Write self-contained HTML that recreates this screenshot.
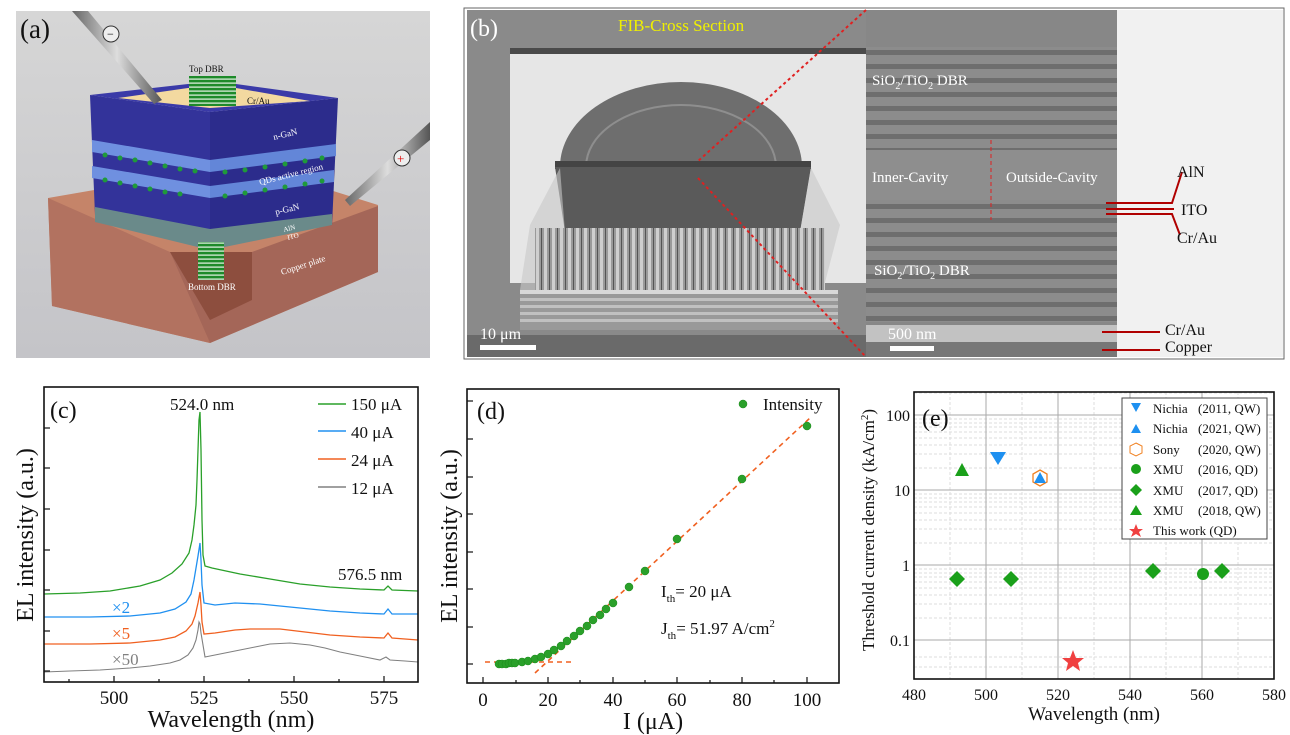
<!DOCTYPE html>
<html><head><meta charset="utf-8"><style>
body{margin:0;background:#fff;}
svg{display:block;font-family:"Liberation Serif",serif;}
</style></head><body>
<svg width="1290" height="735" viewBox="0 0 1290 735" xmlns="http://www.w3.org/2000/svg">
<defs>
<linearGradient id="bgA" x1="0" y1="0" x2="0" y2="1"><stop offset="0" stop-color="#d6d6d6"/><stop offset="1" stop-color="#c4c4c8"/></linearGradient>
<linearGradient id="cuL" x1="0" y1="0" x2="1" y2="1"><stop offset="0" stop-color="#c07a62"/><stop offset="1" stop-color="#b06c58"/></linearGradient>
<linearGradient id="probe" x1="0" y1="0" x2="1" y2="0"><stop offset="0" stop-color="#666"/><stop offset=".5" stop-color="#ddd"/><stop offset="1" stop-color="#555"/></linearGradient>
<pattern id="stripeM" width="10" height="14" patternUnits="userSpaceOnUse"><rect width="10" height="14" fill="#8c8c8c"/><rect y="8" width="10" height="5" fill="#6e6e6e"/></pattern>
<pattern id="rub" width="8" height="60" patternUnits="userSpaceOnUse"><rect width="8" height="60" fill="#9a9a9a"/><rect x="0" width="3" height="60" fill="#cfcfcf"/><rect x="5" width="1" height="60" fill="#555"/></pattern>
<pattern id="dbrG" width="10" height="4" patternUnits="userSpaceOnUse"><rect width="10" height="4" fill="#1e8a2a"/><rect y="2.5" width="10" height="1.2" fill="#e8f4e8"/></pattern>
</defs>

<!-- ===== Panel (a) ===== -->
<rect x="16" y="11" width="414" height="347" fill="url(#bgA)"/>
<!-- copper -->
<polygon points="48,198 100,189 330,190 378,205 378,272 210,343 52,306" fill="#c58469"/>
<polygon points="48,198 170,252 210,343 52,306" fill="#b27260"/>
<polygon points="170,252 252,252 378,206 378,272 210,343" fill="#a46658"/>
<polygon points="170,252 252,252 252,300 210,320" fill="#8d4e3e"/>
<!-- blue block -->
<polygon points="90,95 210,112 210,237 95,215" fill="#33339a"/>
<polygon points="210,112 338,98 332,225 210,237" fill="#2c2c8c"/>
<polygon points="90,95 188,84 236,84 338,98 210,112" fill="#3a3aa8"/>
<polygon points="118,98 210,108 310,101 236,88 188,88" fill="#f3d9a0"/>
<!-- layers -->
<polygon points="92,140 210,160 210,172 92,152" fill="#6f90e0"/>
<polygon points="210,160 336,144 336,156 210,172" fill="#6386d8"/>
<polygon points="92,166 210,186 210,198 92,178" fill="#6f90e0"/>
<polygon points="210,186 334,170 334,182 210,198" fill="#6386d8"/>
<g fill="#1f9a3a">
<circle cx="105" cy="155" r="2.5"/><circle cx="120" cy="158" r="2.5"/><circle cx="135" cy="160" r="2.5"/><circle cx="150" cy="163" r="2.5"/><circle cx="165" cy="166" r="2.5"/><circle cx="180" cy="169" r="2.5"/><circle cx="195" cy="171" r="2.5"/>
<circle cx="225" cy="172" r="2.5"/><circle cx="245" cy="170" r="2.5"/><circle cx="265" cy="167" r="2.5"/><circle cx="285" cy="164" r="2.5"/><circle cx="305" cy="161" r="2.5"/><circle cx="322" cy="158" r="2.5"/>
<circle cx="105" cy="180" r="2.5"/><circle cx="120" cy="183" r="2.5"/><circle cx="135" cy="186" r="2.5"/><circle cx="150" cy="189" r="2.5"/><circle cx="165" cy="192" r="2.5"/><circle cx="180" cy="194" r="2.5"/>
<circle cx="225" cy="196" r="2.5"/><circle cx="245" cy="193" r="2.5"/><circle cx="265" cy="190" r="2.5"/><circle cx="285" cy="187" r="2.5"/><circle cx="305" cy="184" r="2.5"/><circle cx="322" cy="181" r="2.5"/>
</g>
<polygon points="95,207 210,229 332,214 332,225 210,250 95,222" fill="#6a8a8a"/>
<rect x="189" y="76" width="47" height="30" fill="url(#dbrG)"/>
<rect x="198" y="242" width="26" height="38" fill="url(#dbrG)"/>
<text x="189" y="72" font-size="9" fill="#111">Top DBR</text>
<text x="247" y="104" font-size="9" fill="#111">Cr/Au</text>
<text x="274" y="140" font-size="9" fill="#fff" transform="rotate(-14 274 140)">n-GaN</text>
<text x="260" y="185" font-size="9" fill="#fff" transform="rotate(-14 260 185)">QDs active region</text>
<text x="276" y="215" font-size="9" fill="#fff" transform="rotate(-14 276 215)">p-GaN</text>
<text x="284" y="232" font-size="7" fill="#fff" transform="rotate(-14 284 232)">AlN</text>
<text x="288" y="240" font-size="7" fill="#fff" transform="rotate(-14 288 240)">ITO</text>
<text x="282" y="275" font-size="9" fill="#fff" transform="rotate(-18 282 275)">Copper plate</text>
<text x="188" y="290" font-size="9" fill="#fff">Bottom DBR</text>
<!-- probes -->
<polygon points="72,11 88,11 162,100 154,104" fill="url(#probe)"/>
<circle cx="111" cy="34" r="8" fill="#eee" stroke="#333"/><text x="107" y="38" font-size="12">−</text>
<polygon points="430,122 430,140 350,206 345,200" fill="url(#probe)"/>
<circle cx="402" cy="158" r="8" fill="#eee" stroke="#333"/><text x="397" y="163" font-size="13" fill="#d00">+</text>
<text x="20" y="38" font-size="27" fill="#111">(a)</text>

<!-- ===== Panel (b) ===== -->
<rect x="467" y="10" width="399" height="347" fill="#8a8a8a"/>
<rect x="510" y="50" width="356" height="233" fill="#e6e6e6"/>
<rect x="510" y="48" width="356" height="6" fill="#4a4a4a"/>
<ellipse cx="681" cy="167" rx="121" ry="85" fill="#6e6e6e"/>
<ellipse cx="681" cy="167" rx="95" ry="62" fill="none" stroke="#8e8e8e" stroke-width="2"/>
<rect x="555" y="161" width="256" height="8" fill="#444"/>
<polygon points="555,167 811,167 800,232 565,232" fill="#5a5a5a"/>
<polygon points="530,225 560,168 565,232 800,232 811,168 840,225 823,290 520,290" fill="#c8c8c8" opacity=".6"/>
<rect x="535" y="228" width="290" height="62" fill="url(#rub)"/>
<g fill="#d8d8d8"><rect x="520" y="290" width="318" height="4"/><rect x="520" y="298" width="318" height="3"/><rect x="520" y="305" width="318" height="3"/><rect x="520" y="312" width="318" height="3"/><rect x="520" y="319" width="318" height="3"/></g>
<rect x="520" y="294" width="318" height="36" fill="#a8a8a8" opacity=".5"/>
<rect x="467" y="335" width="399" height="22" fill="#6a6a6a"/>
<rect x="480" y="345" width="56" height="5" fill="#fff"/>
<text x="480" y="339" font-size="16" fill="#fff">10 μm</text>
<text x="470" y="36" font-size="24" fill="#fff">(b)</text>
<text x="618" y="31" font-size="17" fill="#f0f000">FIB-Cross Section</text>
<!-- middle -->
<rect x="866" y="10" width="251" height="347" fill="#878787"/>
<rect x="866" y="47" width="251" height="103" fill="url(#stripeM)"/>
<rect x="866" y="150" width="251" height="50" fill="#8e8e8e"/>
<rect x="866" y="200" width="251" height="122" fill="url(#stripeM)"/>
<rect x="866" y="325" width="251" height="17" fill="#c2c2c2"/>
<rect x="866" y="342" width="251" height="15" fill="#777"/>
<rect x="890" y="346" width="44" height="5" fill="#fff"/>
<text x="888" y="339" font-size="16" fill="#fff">500 nm</text>
<text x="872" y="85" font-size="15" fill="#fff">SiO<tspan font-size="10" dy="4">2</tspan><tspan dy="-4">/TiO</tspan><tspan font-size="10" dy="4">2</tspan><tspan dy="-4"> DBR</tspan></text>
<text x="874" y="275" font-size="15" fill="#fff">SiO<tspan font-size="10" dy="4">2</tspan><tspan dy="-4">/TiO</tspan><tspan font-size="10" dy="4">2</tspan><tspan dy="-4"> DBR</tspan></text>
<text x="872" y="182" font-size="15" fill="#fff">Inner-Cavity</text>
<text x="1006" y="182" font-size="15" fill="#fff">Outside-Cavity</text>
<line x1="991" y1="140" x2="991" y2="220" stroke="#e02020" stroke-width="1" stroke-dasharray="4,3"/>
<!-- right -->
<rect x="1117" y="10" width="166" height="347" fill="#f1f1f1"/>
<rect x="464" y="8" width="820" height="351" fill="none" stroke="#666" stroke-width="1"/>
<g stroke="#b00000" stroke-width="2" fill="none">
<polyline points="1106,203 1172,203 1182,172"/><line x1="1106" y1="209" x2="1174" y2="209"/><polyline points="1106,214 1172,214 1180,235"/>
<line x1="1102" y1="332" x2="1160" y2="332"/><line x1="1102" y1="350" x2="1160" y2="350"/>
</g>
<text x="1177" y="177" font-size="16" fill="#111">AlN</text>
<text x="1181" y="215" font-size="16" fill="#111">ITO</text>
<text x="1177" y="243" font-size="16" fill="#111">Cr/Au</text>
<text x="1165" y="335" font-size="16" fill="#111">Cr/Au</text>
<text x="1165" y="352" font-size="16" fill="#111">Copper</text>
<g stroke="#e02020" stroke-width="2" stroke-dasharray="3,3"><line x1="866" y1="10" x2="697" y2="162"/><line x1="698" y1="178" x2="866" y2="357"/></g>

<!-- ===== Panel (c) ===== -->
<g fill="none" stroke-width="1.3">
<polyline stroke="#808080" stroke-width="1.1" points="44,672 70,671 100,670 130,668 150,666 170,663 180,660 188,655 193,648 196,640 198,630 199,622 200,624 201,633 203,645 205,657 210,656 215,655 225,653 240,650 255,647 270,644 290,643 310,645 325,648 340,652 360,656 380,660 386,657 390,660 405,661 418,662"/>
<polyline stroke="#f06020" points="44,644 90,644 130,643 160,640 175,637 186,631 192,624 195,616 198,603 200,592 201,605 202,622 204,634 215,633 235,630 250,629 280,629 305,632 330,635 360,637 384,638 388,633 392,638 418,640"/>
<polyline stroke="#2090f0" points="44,617 90,617 130,616 160,613 175,609 186,602 191,594 194,580 196,568 198,556 200,543 201,560 202,585 204,603 215,605 235,603 260,604 290,607 330,611 360,613 384,614 388,609 392,614 418,614"/>
<polyline stroke="#2aa02a" points="44,594 80,593 110,591 140,586 160,580 172,573 182,564 189,553 192,540 194,525 196,505 197,480 198,450 199,420 200,412 201,450 202,520 203,555 205,566 212,568 240,574 270,579 300,584 330,587 360,589 384,590 388,586 392,590 418,591"/>
</g>
<rect x="44" y="387" width="374" height="295" fill="none" stroke="#111" stroke-width="1.6"/>
<g stroke="#111" stroke-width="1.2">
<line x1="114" y1="682" x2="114" y2="676"/><line x1="204" y1="682" x2="204" y2="676"/><line x1="294" y1="682" x2="294" y2="676"/><line x1="384" y1="682" x2="384" y2="676"/>
<line x1="69" y1="682" x2="69" y2="679"/><line x1="159" y1="682" x2="159" y2="679"/><line x1="249" y1="682" x2="249" y2="679"/><line x1="339" y1="682" x2="339" y2="679"/>
<line x1="44" y1="428" x2="50" y2="428"/><line x1="44" y1="468" x2="50" y2="468"/><line x1="44" y1="509" x2="50" y2="509"/><line x1="44" y1="550" x2="50" y2="550"/><line x1="44" y1="590" x2="50" y2="590"/><line x1="44" y1="631" x2="50" y2="631"/><line x1="44" y1="671" x2="50" y2="671"/>
</g>
<g font-size="19" fill="#111" text-anchor="middle"><text x="114" y="704">500</text><text x="204" y="704">525</text><text x="294" y="704">550</text><text x="384" y="704">575</text></g>
<text x="231" y="727" font-size="24" text-anchor="middle" fill="#111">Wavelength (nm)</text>
<text transform="translate(33,535) rotate(-90)" font-size="24" text-anchor="middle" fill="#111">EL intensity (a.u.)</text>
<text x="50" y="418" font-size="24" fill="#111">(c)</text>
<text x="170" y="410" font-size="17" fill="#111">524.0 nm</text>
<text x="338" y="580" font-size="17" fill="#111">576.5 nm</text>
<g stroke-width="1.5"><line x1="318" y1="404" x2="346" y2="404" stroke="#2aa02a"/><line x1="318" y1="431" x2="346" y2="431" stroke="#2090f0"/><line x1="318" y1="459" x2="346" y2="459" stroke="#f06020"/><line x1="318" y1="487" x2="346" y2="487" stroke="#808080"/></g>
<g font-size="17" fill="#111"><text x="351" y="410">150 μA</text><text x="351" y="438">40 μA</text><text x="351" y="466">24 μA</text><text x="351" y="494">12 μA</text></g>
<text x="112" y="613" font-size="17" fill="#2090f0">×2</text>
<text x="112" y="639" font-size="17" fill="#f06020">×5</text>
<text x="112" y="665" font-size="17" fill="#808080">×50</text>

<!-- ===== Panel (d) ===== -->
<g stroke="#f06020" stroke-width="1.6" stroke-dasharray="5,4" fill="none"><line x1="485" y1="662" x2="571" y2="662"/><line x1="535" y1="673" x2="810" y2="418"/></g>
<g fill="#2aa02a" stroke="#1a8a1a" stroke-width=".5">
<circle cx="499" cy="664" r="4"/><circle cx="502" cy="664" r="4"/><circle cx="506" cy="664" r="4"/><circle cx="509" cy="663" r="4"/><circle cx="512" cy="663" r="4"/><circle cx="515" cy="663" r="4"/><circle cx="522" cy="662" r="4"/><circle cx="528" cy="661" r="4"/><circle cx="535" cy="659" r="4"/><circle cx="541" cy="657" r="4"/><circle cx="548" cy="654" r="4"/><circle cx="554" cy="650" r="4"/><circle cx="561" cy="646" r="4"/><circle cx="567" cy="641" r="4"/><circle cx="574" cy="636" r="4"/><circle cx="580" cy="631" r="4"/><circle cx="587" cy="626" r="4"/><circle cx="593" cy="620" r="4"/><circle cx="600" cy="615" r="4"/><circle cx="606" cy="609" r="4"/><circle cx="613" cy="603" r="4"/><circle cx="629" cy="587" r="4"/><circle cx="645" cy="571" r="4"/><circle cx="677" cy="539" r="4"/><circle cx="742" cy="479" r="4"/><circle cx="807" cy="426" r="4"/>
<circle cx="743" cy="404" r="4"/>
</g>
<rect x="467" y="389" width="372" height="294" fill="none" stroke="#111" stroke-width="1.6"/>
<g stroke="#111" stroke-width="1.2">
<line x1="483" y1="683" x2="483" y2="677"/><line x1="548" y1="683" x2="548" y2="677"/><line x1="613" y1="683" x2="613" y2="677"/><line x1="677" y1="683" x2="677" y2="677"/><line x1="742" y1="683" x2="742" y2="677"/><line x1="807" y1="683" x2="807" y2="677"/>
<line x1="516" y1="683" x2="516" y2="680"/><line x1="580" y1="683" x2="580" y2="680"/><line x1="645" y1="683" x2="645" y2="680"/><line x1="710" y1="683" x2="710" y2="680"/><line x1="774" y1="683" x2="774" y2="680"/>
<line x1="467" y1="401" x2="473" y2="401"/><line x1="467" y1="439" x2="473" y2="439"/><line x1="467" y1="477" x2="473" y2="477"/><line x1="467" y1="514" x2="473" y2="514"/><line x1="467" y1="552" x2="473" y2="552"/><line x1="467" y1="589" x2="473" y2="589"/><line x1="467" y1="627" x2="473" y2="627"/><line x1="467" y1="664" x2="473" y2="664"/>
</g>
<g font-size="19" fill="#111" text-anchor="middle"><text x="483" y="706">0</text><text x="548" y="706">20</text><text x="613" y="706">40</text><text x="677" y="706">60</text><text x="742" y="706">80</text><text x="807" y="706">100</text></g>
<text x="653" y="729" font-size="24" text-anchor="middle" fill="#111">I (μA)</text>
<text transform="translate(457,536) rotate(-90)" font-size="24" text-anchor="middle" fill="#111">EL intensity (a.u.)</text>
<text x="477" y="419" font-size="24" fill="#111">(d)</text>
<text x="763" y="410" font-size="17" fill="#111">Intensity</text>
<text x="661" y="597" font-size="17" fill="#111">I<tspan font-size="11" dy="5">th</tspan><tspan dy="-5">= 20 μA</tspan></text>
<text x="661" y="634" font-size="17" fill="#111">J<tspan font-size="11" dy="5">th</tspan><tspan dy="-5">= 51.97 A/cm</tspan><tspan font-size="11" dy="-7">2</tspan></text>

<!-- ===== Panel (e) ===== -->
<g stroke="#ddd" stroke-width="1" stroke-dasharray="3,2">
<line x1="950" y1="392" x2="950" y2="679"/><line x1="1022" y1="392" x2="1022" y2="679"/><line x1="1094" y1="392" x2="1094" y2="679"/><line x1="1166" y1="392" x2="1166" y2="679"/><line x1="1238" y1="392" x2="1238" y2="679"/>
<line x1="914" y1="392" x2="1274" y2="392"/>
<line x1="914" y1="667" x2="1274" y2="667"/><line x1="914" y1="657" x2="1274" y2="657"/><line x1="914" y1="618" x2="1274" y2="618"/><line x1="914" y1="604" x2="1274" y2="604"/><line x1="914" y1="595" x2="1274" y2="595"/><line x1="914" y1="588" x2="1274" y2="588"/><line x1="914" y1="582" x2="1274" y2="582"/><line x1="914" y1="577" x2="1274" y2="577"/><line x1="914" y1="573" x2="1274" y2="573"/><line x1="914" y1="569" x2="1274" y2="569"/>
<line x1="914" y1="543" x2="1274" y2="543"/><line x1="914" y1="529" x2="1274" y2="529"/><line x1="914" y1="520" x2="1274" y2="520"/><line x1="914" y1="513" x2="1274" y2="513"/><line x1="914" y1="507" x2="1274" y2="507"/><line x1="914" y1="502" x2="1274" y2="502"/><line x1="914" y1="498" x2="1274" y2="498"/><line x1="914" y1="494" x2="1274" y2="494"/>
<line x1="914" y1="468" x2="1274" y2="468"/><line x1="914" y1="454" x2="1274" y2="454"/><line x1="914" y1="445" x2="1274" y2="445"/><line x1="914" y1="438" x2="1274" y2="438"/><line x1="914" y1="432" x2="1274" y2="432"/><line x1="914" y1="427" x2="1274" y2="427"/><line x1="914" y1="423" x2="1274" y2="423"/><line x1="914" y1="419" x2="1274" y2="419"/>
<line x1="914" y1="393" x2="1274" y2="393"/>
</g>
<g stroke="#aaa" stroke-width="1">
<line x1="986" y1="392" x2="986" y2="679"/><line x1="1058" y1="392" x2="1058" y2="679"/><line x1="1130" y1="392" x2="1130" y2="679"/><line x1="1202" y1="392" x2="1202" y2="679"/>
<line x1="914" y1="415" x2="1274" y2="415"/><line x1="914" y1="490" x2="1274" y2="490"/><line x1="914" y1="565" x2="1274" y2="565"/><line x1="914" y1="640" x2="1274" y2="640"/>
</g>
<rect x="914" y="392" width="360" height="287" fill="none" stroke="#111" stroke-width="1.6"/>
<!-- markers -->
<polygon points="990,452 1006,452 998,465" fill="#1e90f0"/>
<polygon points="955,476 969,476 962,463" fill="#1aa01a"/>
<polygon points="1040,470 1047,474 1047,482 1040,486 1033,482 1033,474" fill="#fff" stroke="#f08020" stroke-width="1.3"/>
<polygon points="1034,483 1046,483 1040,472" fill="#1e90f0"/>
<g fill="#1aa01a"><polygon points="957,571 965,579 957,587 949,579"/><polygon points="1011,571 1019,579 1011,587 1003,579"/><polygon points="1153,563 1161,571 1153,579 1145,571"/><polygon points="1222,563 1230,571 1222,579 1214,571"/><circle cx="1203" cy="574" r="6"/></g>
<polygon points="1073,650 1076,658 1084,658 1078,663 1080,671 1073,666 1066,671 1068,663 1062,658 1070,658" fill="#f04040"/>
<!-- legend -->
<rect x="1122" y="398" width="145" height="141" fill="#fff" stroke="#444" stroke-width="1"/>
<polygon points="1131,403 1141,403 1136,412" fill="#1e90f0"/>
<polygon points="1131,433 1141,433 1136,424" fill="#1e90f0"/>
<polygon points="1136,443 1142,446 1142,453 1136,456 1130,453 1130,446" fill="#fff" stroke="#f08020"/>
<circle cx="1136" cy="469" r="5" fill="#1aa01a"/>
<polygon points="1136,484 1142,490 1136,496 1130,490" fill="#1aa01a"/>
<polygon points="1130,515 1142,515 1136,505" fill="#1aa01a"/>
<polygon points="1136,524 1138,529 1143,529 1139,532 1141,537 1136,534 1131,537 1133,532 1129,529 1134,529" fill="#f04040"/>
<g font-size="13" fill="#111">
<text x="1153" y="413">Nichia</text><text x="1198" y="413">(2011, QW)</text>
<text x="1153" y="433">Nichia</text><text x="1198" y="433">(2021, QW)</text>
<text x="1153" y="454">Sony</text><text x="1198" y="454">(2020, QW)</text>
<text x="1153" y="474">XMU</text><text x="1198" y="474">(2016, QD)</text>
<text x="1153" y="495">XMU</text><text x="1198" y="495">(2017, QD)</text>
<text x="1153" y="515">XMU</text><text x="1198" y="515">(2018, QW)</text>
<text x="1153" y="535">This work (QD)</text>
</g>
<g font-size="16" fill="#111" text-anchor="middle"><text x="914" y="700">480</text><text x="986" y="700">500</text><text x="1058" y="700">520</text><text x="1130" y="700">540</text><text x="1202" y="700">560</text><text x="1274" y="700">580</text></g>
<g font-size="16" fill="#111" text-anchor="end"><text x="910" y="421">100</text><text x="910" y="496">10</text><text x="910" y="571">1</text><text x="910" y="646">0.1</text></g>
<text x="1094" y="720" font-size="19" text-anchor="middle" fill="#111">Wavelength (nm)</text>
<text transform="translate(874,530) rotate(-90)" font-size="17" text-anchor="middle" fill="#111">Threshold current density (kA/cm<tspan font-size="11" dy="-6">2</tspan><tspan dy="6">)</tspan></text>
<text x="922" y="426" font-size="24" fill="#111">(e)</text>
</svg>
</body></html>
